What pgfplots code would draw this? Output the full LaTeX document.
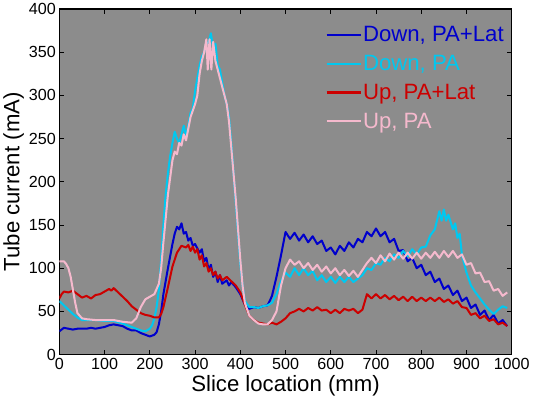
\documentclass[border=0pt]{standalone}
\usepackage{fontspec}
\setmainfont{Liberation Sans}
\usepackage{pgfplots}
\pgfplotsset{compat=1.18}
\definecolor{cblue}{RGB}{0,0,204}
\definecolor{ccyan}{RGB}{0,200,240}
\definecolor{cred}{RGB}{204,0,0}
\definecolor{cpink}{RGB}{245,185,205}
\definecolor{cbg}{RGB}{140,140,140}
\begin{document}
\begin{tikzpicture}
\begin{axis}[
  scale only axis, width=449pt, height=343pt,
  xmin=0, xmax=1000, ymin=0, ymax=400,
  xtick={0,100,...,1000}, ytick={0,50,...,400},
  tick align=inside, major tick length=5pt,
  tick style={black, line width=1pt},
  axis line style={black, line width=1.3pt},
  axis background/.style={fill=cbg},
  /pgf/number format/assume math mode=true,
  /pgf/number format/1000 sep={},
  ticklabel style={font=\fontsize{16}{18}\selectfont},
  label style={font=\fontsize{22}{24}\selectfont},
  xlabel={Slice location (mm)}, ylabel={Tube current (mA)},
  xlabel style={yshift=1pt}, ylabel style={yshift=-2pt},
  legend style={draw=none, fill=none, at={(0.985,0.962)}, anchor=north east,
    font=\fontsize{22}{24}\selectfont, row sep=8pt, inner xsep=0pt,
    nodes={inner xsep=1pt}},
  legend cell align=left,
  legend image code/.code={\draw[#1] (0cm,0cm) -- (1.2cm,0cm);},
  every axis plot/.append style={line width=2pt, line join=round},
]
\addplot[cblue] coordinates {
(0,27)(5,29)(10,31)(20,30)(30,29)(40,30)(50,30)(60,30)(70,31)(80,30)(90,31)(100,32)(110,34)(120,35)(130,34)(140,33)(150,30)(160,28)(170,28)(180,25)(190,23)(200,21)(210,23)(215,26)(220,35)(225,50)(230,70)(240,100)(250,128)(255,140)
(260,148)(265,145)(270,152)(275,140)(280,142)(285,132)(290,135)(295,126)(300,128)(310,118)(315,122)(320,108)(325,112)(330,98)(335,104)(340,90)(345,96)(350,84)(355,92)(360,82)(370,86)(375,80)(380,84)(390,78)(400,70)
(410,58)(420,53)(430,55)(440,54)(450,56)(460,57)(465,62)(470,68)(480,90)(490,115)
(500,142)(510,134)(520,141)(530,132)(540,139)(550,130)(560,137)(570,128)(580,132)(590,120)(600,124)(610,116)(620,126)(630,120)(640,130)(650,124)(660,134)(670,130)(680,142)(690,137)(700,146)(710,137)(720,142)(730,130)(740,134)(750,120)(760,121)(770,108)(780,112)(790,100)(800,104)(810,92)(820,96)(830,84)(840,88)(850,76)(860,80)(870,69)(880,74)(890,62)(900,66)(910,54)(920,58)(930,46)(940,51)(950,40)(960,46)(970,36)(980,40)(990,33)
};
\addlegendentry{\textcolor{cblue}{Down, PA+Lat}}
\addplot[ccyan] coordinates {
(0,62)(10,57)(20,52)(30,47)(40,43)(50,40)(60,40)(80,40)(100,39)(120,39)(140,36)(160,32)(170,30)(180,28)(190,27)(200,30)(205,34)(210,42)(215,55)(220,75)(225,110)(230,150)(235,185)(240,210)(245,230)(250,245)(255,258)(260,250)(265,245)(270,255)(275,265)(280,252)(285,265)(290,280)(295,285)(300,305)(305,320)(310,335)(315,345)(320,350)(325,360)(330,362)(335,372)(340,355)(345,360)(350,335)(355,330)(360,315)(365,300)(370,290)(375,275)(380,245)(385,210)(390,175)(395,140)(400,105)(405,80)(410,62)(420,55)(430,55)(440,54)(450,56)(460,57)(470,60)(475,65)
(480,70)(490,85)(500,95)(510,90)(520,100)(530,92)(540,100)(550,92)(560,97)(570,86)(580,92)(590,84)(600,90)(610,83)(620,90)(630,84)(640,90)(650,84)(660,88)(670,92)(680,100)(690,98)(700,106)(710,104)(720,112)(730,108)(740,116)(750,112)(760,120)(770,114)(780,122)(790,116)(800,124)(810,125)(820,138)(830,145)(840,166)(845,155)(850,168)(855,155)(860,162)(870,145)(875,152)(880,135)(885,140)(890,115)(900,95)(910,80)(920,72)(930,65)(940,58)(950,52)(960,47)(970,52)(980,56)(990,54)
};
\addlegendentry{\textcolor{ccyan}{Down, PA}}
\addplot[cred] coordinates {
(0,65)(5,70)(10,73)(20,72)(30,74)(40,70)(50,66)(60,68)(70,65)(80,69)(90,70)(100,73)(110,76)(115,74)(120,77)(130,72)(140,67)(150,62)(160,56)(170,52)(180,48)(190,46)(200,45)(210,43)(220,43)(225,47)(230,55)(240,78)(250,102)(260,118)(265,122)(270,126)(280,124)(285,127)(290,120)(295,125)(300,118)(305,122)(310,110)(315,115)(320,102)(325,106)(330,96)(335,100)(340,92)(345,96)(350,88)(355,92)(360,86)(370,90)(380,85)(390,80)(400,72)
(410,58)(420,45)(430,40)(440,37)(450,36)(460,35)(470,37)(480,35)
(490,38)(500,42)(510,48)(520,50)(530,53)(540,50)(550,54)(560,51)(570,55)(580,51)(590,52)(600,48)(610,52)(620,48)(630,53)(640,51)(650,53)(660,48)(670,52)(680,70)(690,65)(700,70)(710,65)(720,69)(730,64)(740,68)(750,63)(760,67)(770,62)(780,67)(790,62)(800,66)(810,62)(820,66)(830,62)(840,66)(850,61)(860,64)(870,59)(880,62)(890,55)(900,54)(910,46)(920,48)(930,42)(940,45)(950,39)(960,41)(970,35)(980,37)(990,33)
};
\addlegendentry{\textcolor{cred}{Up, PA+Lat}}
\addplot[cpink] coordinates {
(0,108)(10,108)(15,105)(20,100)(25,90)(30,75)(35,60)(40,48)(50,42)(60,41)(80,40)(100,40)(120,40)(140,38)(160,37)(170,42)(180,55)(190,64)(200,67)(210,70)(220,82)(225,100)(230,130)(240,185)(250,225)(255,235)(260,232)(265,245)(270,242)(275,255)(280,248)(290,275)(300,290)(305,300)(310,325)(315,340)(320,350)(325,365)(328,330)(332,365)(336,330)(340,362)(345,340)(350,330)(355,320)(360,310)(365,300)(370,290)(375,270)(380,240)(385,210)(390,180)(395,145)(400,110)
(405,80)(410,60)(420,45)(430,40)(440,36)(450,35)(460,35)(470,40)(480,50)(490,80)(500,100)(510,110)(520,104)(530,108)(540,100)(550,106)(560,98)(570,104)(580,96)(590,102)(600,94)(610,100)(620,92)(630,98)(640,91)(650,97)(660,90)(670,98)(680,106)(690,112)(700,106)(710,115)(720,108)(730,117)(740,110)(750,118)(760,111)(770,118)(780,111)(790,118)(800,111)(810,118)(820,112)(830,119)(840,112)(850,120)(860,113)(870,120)(880,112)(890,116)(900,104)(910,106)(920,94)(930,95)(940,84)(950,85)(960,74)(970,76)(980,68)(990,72)
};
\addlegendentry{\textcolor{cpink}{Up, PA}}
\end{axis}
\end{tikzpicture}
\end{document}
